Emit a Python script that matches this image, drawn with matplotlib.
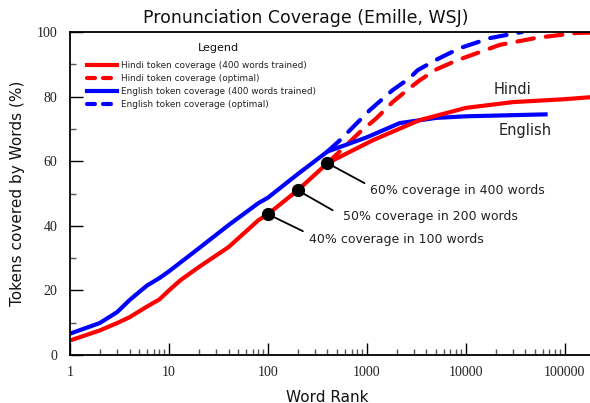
import matplotlib
matplotlib.use("Agg")
import matplotlib.pyplot as plt
from matplotlib.lines import Line2D
from matplotlib.ticker import FixedLocator, NullFormatter

# === Data
hindi_rank = [1, 2, 3, 4, 6, 8, 10, 13, 20, 40, 80, 100, 200, 400, 1150, 3400, 10000, 30000, 100000, 180000]
hindi_cov = [4.5, 7.6, 9.9, 11.7, 15.0, 17.2, 20.0, 23.1, 27.2, 33.4, 41.7, 43.6, 51.0, 59.4, 66.5, 72.7, 76.5, 78.3, 79.2, 79.8]

hindi_opt_rank = [400, 575, 850, 1250, 1820, 2700, 3400, 5100, 8100, 22000, 52000, 132000, 180000]
hindi_opt_cov = [59.4, 64.0, 69.0, 73.3, 78.3, 82.6, 85.0, 88.5, 91.2, 96.0, 98.2, 99.7, 99.8]

english_rank = [1, 2, 3, 4, 5, 6, 8, 10, 20, 40, 80, 100, 200, 400, 1000, 2150, 5000, 10000, 64000]
english_cov = [6.6, 9.9, 13.3, 17.0, 19.5, 21.5, 23.8, 25.9, 33.0, 40.2, 47.0, 48.7, 56.0, 63.0, 67.4, 71.8, 73.4, 73.9, 74.5]

english_opt_rank = [400, 535, 850, 1070, 1820, 2700, 3270, 5100, 8700, 17500, 37000]
english_opt_cov = [63.0, 66.5, 72.7, 75.8, 82.0, 85.7, 88.2, 91.5, 95.0, 98.1, 100.0]

mark_rank = [100, 200, 400]
mark_cov = [43.6, 51.0, 59.4]
mark_text = ["40% coverage in 100 words", "50% coverage in 200 words", "60% coverage in 400 words"]

x_ticks = [1, 10, 100, 1000, 10000, 100000]
x_labels = ["1", "10", "100", "1000", "10000", "100000"]
y_ticks = [0, 20, 40, 60, 80, 100]

legend_labels = ["Hindi token coverage (400 words trained)",
                 "Hindi token coverage (optimal)",
                 "English token coverage (400 words trained)",
                 "English token coverage (optimal)"]

RED = "#ff0000"
BLUE = "#0000ff"
LW = 3.0

fig = plt.figure(figsize=(5.9, 4.03), dpi=100)
ax = fig.add_axes([70 / 590, 1 - 355 / 403, 1 - 70 / 590, (355 - 32) / 403])

ax.plot(hindi_opt_rank, hindi_opt_cov, color=RED, lw=LW, dashes=(4.0, 2.9), dash_capstyle="round")
ax.plot(english_opt_rank, english_opt_cov, color=BLUE, lw=LW, dashes=(4.0, 2.9), dash_capstyle="round")
ax.plot(english_rank, english_cov, color=BLUE, lw=LW, solid_joinstyle="round")
ax.plot(hindi_rank, hindi_cov, color=RED, lw=LW, solid_joinstyle="round")

# leader lines and notes, offsets in pixels from each marker
line_off = [(35, -17), (35, -20), (37, -20)]
text_off = [(41, -25), (45, -26), (43, -27)]
for r, c, t, lo, to in zip(mark_rank, mark_cov, mark_text, line_off, text_off):
    ax.annotate("", xy=(r, c), xytext=lo, textcoords="offset pixels",
                arrowprops=dict(arrowstyle="-", color="black", lw=1.3, shrinkA=0, shrinkB=0))
    ax.annotate(t, xy=(r, c), xytext=to, textcoords="offset pixels", fontsize=9,
                color="#222222", va="center", ha="left")
ax.plot(mark_rank, mark_cov, "o", color="black", ms=8.5, zorder=5)

ax.text(29900, 82.3, "Hindi", fontsize=10.5, color="#222222", ha="center", va="center")
ax.text(39400, 69.6, "English", fontsize=10.5, color="#222222", ha="center", va="center")

ax.set_xscale("log")
ax.set_xlim(1, 1.8e5)
ax.set_ylim(0, 100)

ax.xaxis.set_major_locator(FixedLocator(x_ticks))
ax.set_xticklabels(x_labels)
ax.xaxis.set_minor_locator(FixedLocator([m * d for d in x_ticks for m in range(2, 10)]))
ax.xaxis.set_minor_formatter(NullFormatter())
ax.set_yticks(y_ticks)
ax.yaxis.set_minor_locator(FixedLocator([10, 30, 50, 70, 90]))

for lab in ax.get_xticklabels() + ax.get_yticklabels():
    lab.set_family("Liberation Serif")
    lab.set_fontsize(10)
    lab.set_color("#222222")

ax.tick_params(which="major", direction="in", length=9, width=1.0, pad=8)
ax.tick_params(which="minor", direction="in", length=4.5, width=1.0, color="#555555")
ax.tick_params(axis="y", which="major", pad=9)

ax.spines["right"].set_visible(False)
for s in ["left", "bottom", "top"]:
    ax.spines[s].set_linewidth(1.3)

fig.text(306 / 590, 1 - 18 / 403, "Pronunciation Coverage (Emille, WSJ)", fontsize=12.5,
         ha="center", va="center", color="#111111")
fig.text(327 / 590, 1 - 397 / 403, "Word Rank", fontsize=11, ha="center", va="center", color="#111111")
fig.text(18 / 590, 1 - 193 / 403, "Tokens covered by Words (%)", fontsize=11, rotation=90,
         ha="center", va="center", color="#111111")

# legend
handles = [Line2D([], [], color=RED, lw=LW),
           Line2D([], [], color=RED, lw=LW, dashes=(1.9, 1.95), dash_capstyle="round"),
           Line2D([], [], color=BLUE, lw=LW),
           Line2D([], [], color=BLUE, lw=LW, dashes=(1.9, 1.95), dash_capstyle="round")]
fig.text(218 / 590, 1 - 48 / 403, "Legend", fontsize=8, ha="center", va="center", color="#111111")
leg = fig.legend(handles, legend_labels, loc="upper left", bbox_to_anchor=(87 / 590, 1 - 61 / 403),
                 frameon=False, fontsize=6.4, handlelength=3.4, handletextpad=0.4,
                 labelspacing=0.45, borderpad=0, borderaxespad=0)
for t in leg.get_texts():
    t.set_color("#222222")

fig.savefig("out.png", dpi=100)
